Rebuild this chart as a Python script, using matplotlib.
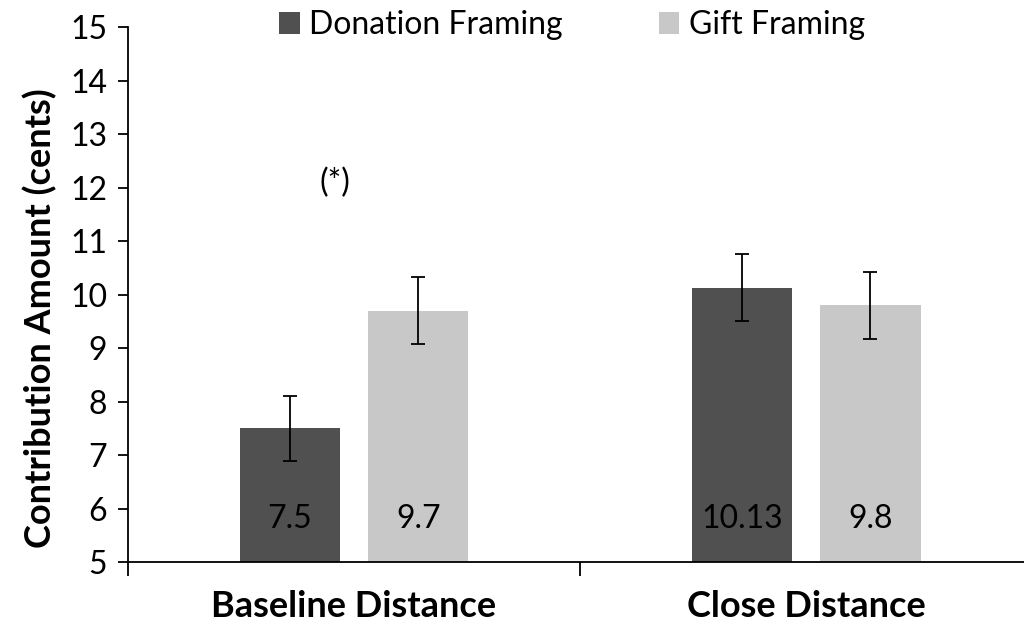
import matplotlib.pyplot as plt
import numpy as np

plt.rcParams['font.family'] = ['Lato', 'DejaVu Sans']

groups = ['Baseline Distance', 'Close Distance']
series = ['Donation Framing', 'Gift Framing']
donation = [7.5, 10.13]
gift = [9.7, 9.8]
donation_err = [0.61, 0.63]
gift_err = [0.63, 0.63]
labels_don = ['7.5', '10.13']
labels_gift = ['9.7', '9.8']

fig = plt.figure(figsize=(10.24, 6.29), dpi=100)
ax = fig.add_axes([0.125, 0.1065, 0.883, 0.8505])

x = np.arange(len(groups))
w = 0.222
off = 0.142
ax.bar(x - off, donation, w, color='#505050', label=series[0],
       yerr=donation_err, error_kw=dict(ecolor='black', elinewidth=1.3, capsize=5, capthick=1.3))
ax.bar(x + off, gift, w, color='#c8c8c8', label=series[1],
       yerr=gift_err, error_kw=dict(ecolor='black', elinewidth=1.3, capsize=5, capthick=1.3))

for i in range(len(groups)):
    ax.text(x[i] - off, 5.8, labels_don[i], ha='center', va='center', fontsize=23)
    ax.text(x[i] + off, 5.8, labels_gift[i], ha='center', va='center', fontsize=23)

ax.text(-0.042, 12.08, '(*)', ha='center', va='center', fontsize=23)

ax.set_ylim(5, 15)
ax.set_xlim(-0.5, 1.5)
ax.set_yticks(range(5, 16))
ax.tick_params(axis='y', labelsize=23, length=7, width=1.3, direction='out', pad=8)
ax.set_xticks([-0.5, 0.5, 1.5])
ax.set_xticklabels([])
ax.tick_params(axis='x', length=10, width=1.3, direction='out')
for i, g in enumerate(groups):
    ax.text(x[i], 4.17, g, ha='center', va='center', fontsize=26, fontweight='bold',
            clip_on=False)

ax.spines['top'].set_visible(False)
ax.spines['right'].set_visible(False)
ax.spines['left'].set_linewidth(1.3)
ax.spines['bottom'].set_linewidth(1.3)

ax.set_ylabel('Contribution Amount (cents)', fontsize=26, fontweight='bold', va='center')
ax.yaxis.set_label_coords(-0.097, 0.456)

ax.legend(loc='upper center', bbox_to_anchor=(0.491, 1.085), ncol=2, frameon=False,
          fontsize=23, handlelength=0.65, handleheight=0.65, handletextpad=0.3,
          columnspacing=3.0)

fig.savefig('out.png', dpi=100)
